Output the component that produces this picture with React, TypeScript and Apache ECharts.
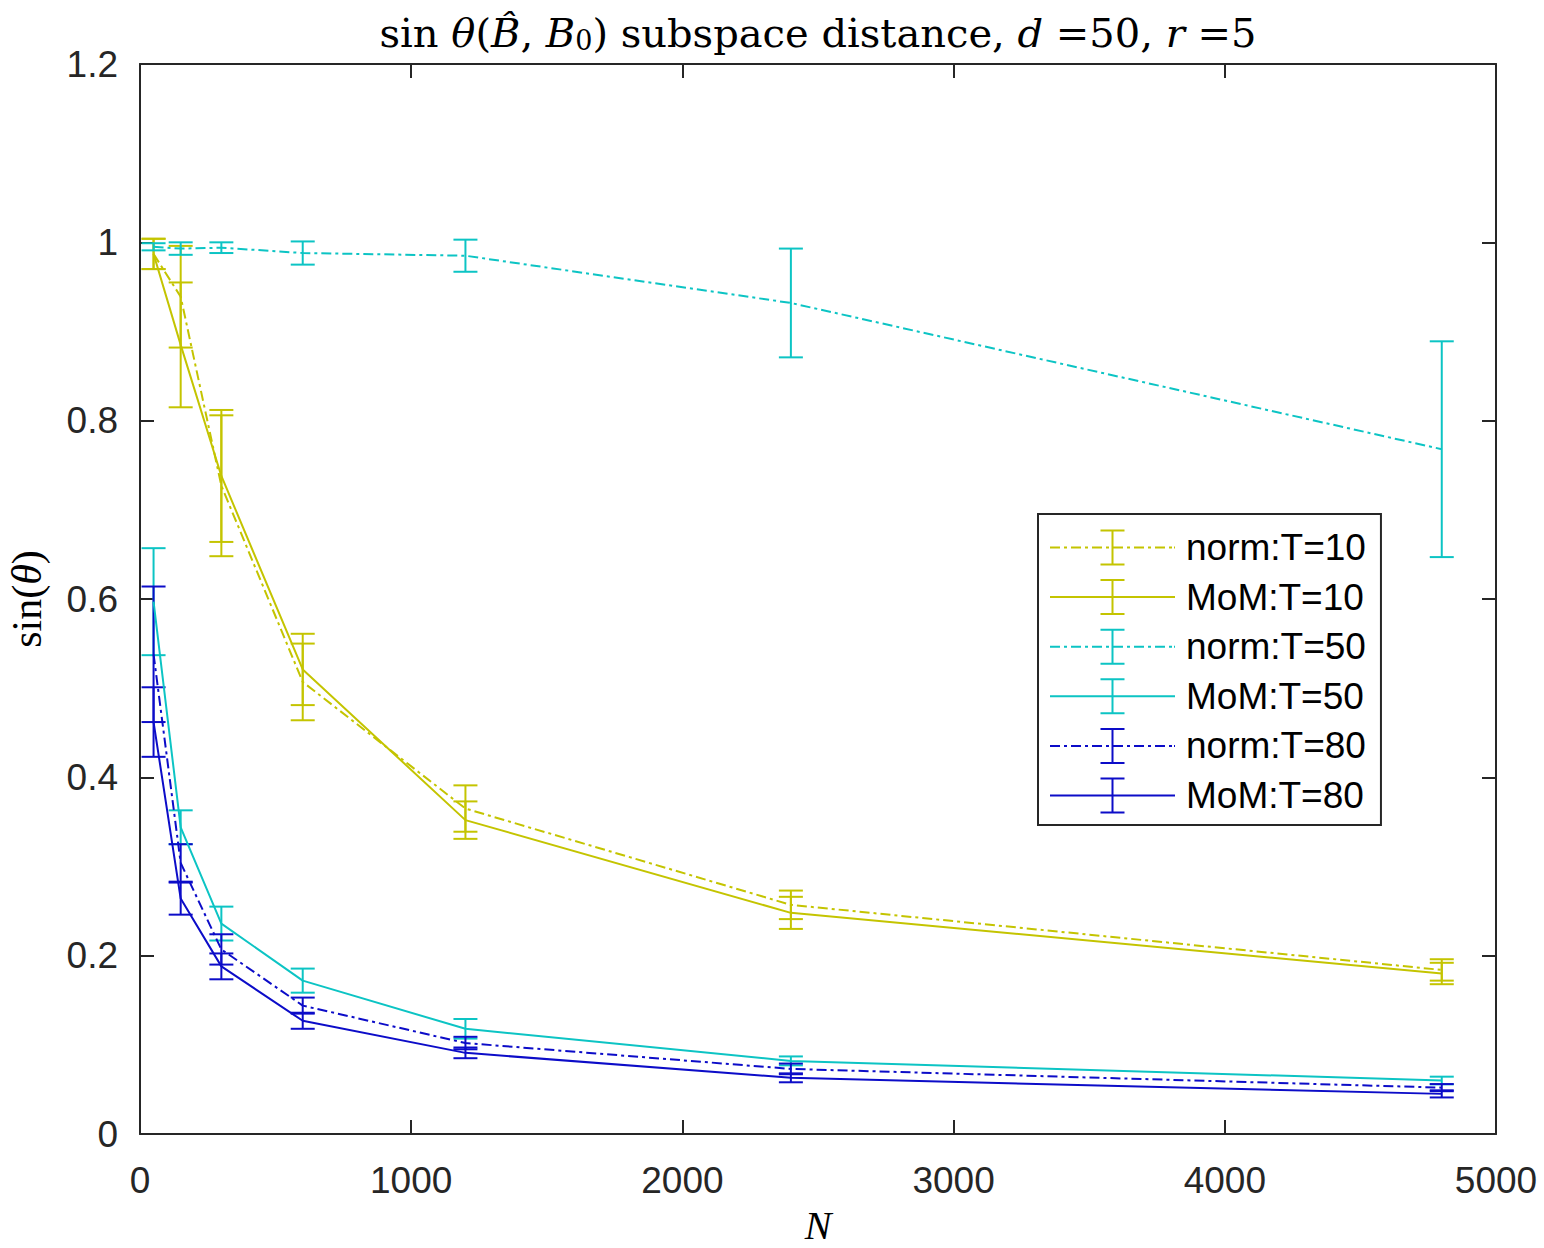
import React, { useEffect, useRef } from "react";
import * as echarts from "echarts";

const sampleSizes = [50, 150, 300, 600, 1200, 2400, 4800];

const normT10Mean = [0.987, 0.939, 0.727, 0.507, 0.365, 0.257, 0.184];
const normT10Err = [0.017, 0.057, 0.079, 0.043, 0.026, 0.016, 0.012];
const momT10Mean = [0.987, 0.885, 0.738, 0.521, 0.352, 0.248, 0.18];
const momT10Err = [0.017, 0.07, 0.074, 0.04, 0.021, 0.018, 0.012];

const normT50Mean = [0.995, 0.993, 0.994, 0.988, 0.985, 0.932, 0.768];
const normT50Err = [0.004, 0.007, 0.006, 0.013, 0.018, 0.061, 0.121];
const momT50Mean = [0.597, 0.344, 0.236, 0.172, 0.118, 0.082, 0.06];
const momT50Err = [0.06, 0.019, 0.019, 0.0135, 0.011, 0.005, 0.0043];

const normT80Mean = [0.538, 0.304, 0.207, 0.144, 0.102, 0.073, 0.052];
const normT80Err = [0.076, 0.021, 0.017, 0.009, 0.007, 0.006, 0.004];
const momT80Mean = [0.462, 0.264, 0.188, 0.127, 0.091, 0.063, 0.045];
const momT80Err = [0.039, 0.018, 0.0145, 0.009, 0.006, 0.005, 0.004];

const seriesNames = ["norm:T=10", "MoM:T=10", "norm:T=50", "MoM:T=50", "norm:T=80", "MoM:T=80"];
const xTickValues = [0, 1000, 2000, 3000, 4000, 5000];
const yTickValues = [0, 0.2, 0.4, 0.6, 0.8, 1, 1.2];

const YELLOW = "#c4c400";
const CYAN = "#0cc4c4";
const BLUE = "#0c0cc8";
const AXIS = "#262626";

const DASH_DOT = [10, 4, 3, 4];

function iconPath(dashed: boolean): string {
  const W = 125;
  const parts: string[] = [];
  if (dashed) {
    let x = 0;
    let i = 0;
    while (x < W) {
      const len = Math.min(DASH_DOT[i % 4], W - x);
      if (i % 2 === 0) parts.push(`M${x},17h${len}v2h${-len}z`);
      x += DASH_DOT[i % 4];
      i++;
    }
    parts.push(`M${W - 1},17h1v2h-1z`);
  } else {
    parts.push(`M0,17h${W}v2h${-W}z`);
  }
  parts.push("M61.5,0h2v36h-2z");
  parts.push("M50.5,0h24v2h-24z");
  parts.push("M50.5,34h24v2h-24z");
  return "path://" + parts.join(" ");
}

export default function App() {
  const ref = useRef<HTMLDivElement>(null);

  useEffect(() => {
    if (!ref.current) return;
    const chart = echarts.init(ref.current, undefined, { renderer: "svg" });

    const defs = [
      { name: seriesNames[0], mean: normT10Mean, err: normT10Err, color: YELLOW, dashed: true },
      { name: seriesNames[1], mean: momT10Mean, err: momT10Err, color: YELLOW, dashed: false },
      { name: seriesNames[2], mean: normT50Mean, err: normT50Err, color: CYAN, dashed: true },
      { name: seriesNames[3], mean: momT50Mean, err: momT50Err, color: CYAN, dashed: false },
      { name: seriesNames[4], mean: normT80Mean, err: normT80Err, color: BLUE, dashed: true },
      { name: seriesNames[5], mean: momT80Mean, err: momT80Err, color: BLUE, dashed: false },
    ];

    const series: any[] = [];
    defs.forEach((d) => {
      const color = d.color;
      series.push({
        name: d.name + " err",
        type: "custom",
        xAxisIndex: 0,
        yAxisIndex: 0,
        data: sampleSizes.map((n, i) => [n, d.mean[i] - d.err[i], d.mean[i] + d.err[i]]),
        encode: { x: 0, y: [1, 2] },
        renderItem: (params: any, api: any) => {
          const x = api.value(0);
          const lo = api.coord([x, api.value(1)]);
          const hi = api.coord([x, api.value(2)]);
          const half = 12;
          const style = { stroke: color, lineWidth: 2, fill: "none" };
          return {
            type: "group",
            children: [
              { type: "line", shape: { x1: lo[0], y1: lo[1], x2: hi[0], y2: hi[1] }, style },
              { type: "line", shape: { x1: lo[0] - half, y1: lo[1], x2: lo[0] + half, y2: lo[1] }, style },
              { type: "line", shape: { x1: hi[0] - half, y1: hi[1], x2: hi[0] + half, y2: hi[1] }, style },
            ],
          };
        },
      });
      series.push({
        name: d.name,
        type: "line",
        xAxisIndex: 0,
        yAxisIndex: 0,
        data: sampleSizes.map((n, i) => [n, d.mean[i]]),
        symbol: "none",
        color,
        itemStyle: { color, borderWidth: 0 },
        lineStyle: { color, width: 2, type: d.dashed ? DASH_DOT : "solid" },
      });
    });

    const tickStyle = { show: true, inside: true, length: 14, lineStyle: { color: AXIS, width: 2 } };
    const lineStyle = { show: true, onZero: false, lineStyle: { color: AXIS, width: 2 } };

    const option: any = {
      animation: false,
      backgroundColor: "#ffffff",
      grid: {
        left: 140,
        top: 64,
        width: 1356,
        height: 1070,
        containLabel: false,
        outerBoundsMode: "none",
      },
      graphic: [
        {
          type: "text",
          x: 818,
          y: 33,
          style: {
            text:
              "{rm|sin }{it|θ}{rm|(}{it|B̂}{rm|, }{it|B}{sub|0}{rm|) subspace distance, }{it|d}{rm| =50, }{it|r}{rm| =5}",
            align: "center",
            verticalAlign: "middle",
            fill: "#000",
            rich: {
              rm: { fontFamily: "DejaVu Serif", fontSize: 40, fill: "#000" },
              it: { fontFamily: "DejaVu Serif", fontStyle: "italic", fontSize: 40, fill: "#000" },
              sub: { fontFamily: "DejaVu Serif", fontSize: 27, fill: "#000", padding: [14, 0, 0, 0] },
            },
          },
        },
      ],
      legend: {
        show: true,
        data: defs.map((d) => ({ name: d.name, icon: iconPath(d.dashed) })),
        orient: "vertical",
        left: 1038,
        top: 514,
        padding: [15, 15, 11, 12],
        itemWidth: 125,
        itemHeight: 36,
        itemGap: 12.6,
        selectedMode: false,
        borderColor: AXIS,
        borderWidth: 2,
        backgroundColor: "#ffffff",
        itemStyle: { borderWidth: 0 },
        textStyle: {
          fontFamily: "Liberation Sans",
          fontSize: 37,
          color: "#000",
          lineHeight: 36,
          padding: [0, 0, 0, 6],
        },
      },
      xAxis: [
        {
          type: "value",
          min: 0,
          max: 5000,
          interval: 1000,
          position: "bottom",
          axisLine: lineStyle,
          axisTick: tickStyle,
          splitLine: { show: false },
          axisLabel: {
            margin: 28,
            fontFamily: "Liberation Sans",
            fontSize: 37,
            color: AXIS,
            formatter: (v: number) => (xTickValues.includes(v) ? String(v) : ""),
          },
          name: "{it|N}",
          nameLocation: "middle",
          nameGap: 72,
          nameTextStyle: {
            rich: {
              it: {
                fontFamily: "Liberation Serif",
                fontStyle: "italic",
                fontSize: 40,
                lineHeight: 38,
                color: "#000",
              },
            },
          },
        },
        {
          type: "value",
          min: 0,
          max: 5000,
          interval: 1000,
          position: "top",
          axisLine: lineStyle,
          axisTick: tickStyle,
          axisLabel: { show: false },
          splitLine: { show: false },
        },
      ],
      yAxis: [
        {
          type: "value",
          min: 0,
          max: 1.2,
          interval: 0.2,
          position: "left",
          axisLine: lineStyle,
          axisTick: tickStyle,
          splitLine: { show: false },
          axisLabel: {
            margin: 22,
            fontFamily: "Liberation Sans",
            fontSize: 37,
            color: AXIS,
            formatter: (v: number) => {
              const r = Math.round(v * 10) / 10;
              return yTickValues.includes(r) ? String(r) : "";
            },
          },
          name: "{rm|sin(}{it|θ}{rm|)}",
          nameLocation: "middle",
          nameGap: 92,
          nameRotate: 90,
          nameTextStyle: {
            rich: {
              rm: { fontFamily: "Liberation Serif", fontSize: 42, color: "#000" },
              it: { fontFamily: "Liberation Serif", fontStyle: "italic", fontSize: 42, color: "#000" },
            },
          },
        },
        {
          type: "value",
          min: 0,
          max: 1.2,
          interval: 0.2,
          position: "right",
          axisLine: lineStyle,
          axisTick: tickStyle,
          axisLabel: { show: false },
          splitLine: { show: false },
        },
      ],
      series,
    };

    chart.setOption(option);
    return () => chart.dispose();
  }, []);

  return (
    <div
      ref={ref}
      style={{ position: "absolute", left: 0, top: 0, width: 1544, height: 1248, background: "#fff" }}
    />
  );
}
